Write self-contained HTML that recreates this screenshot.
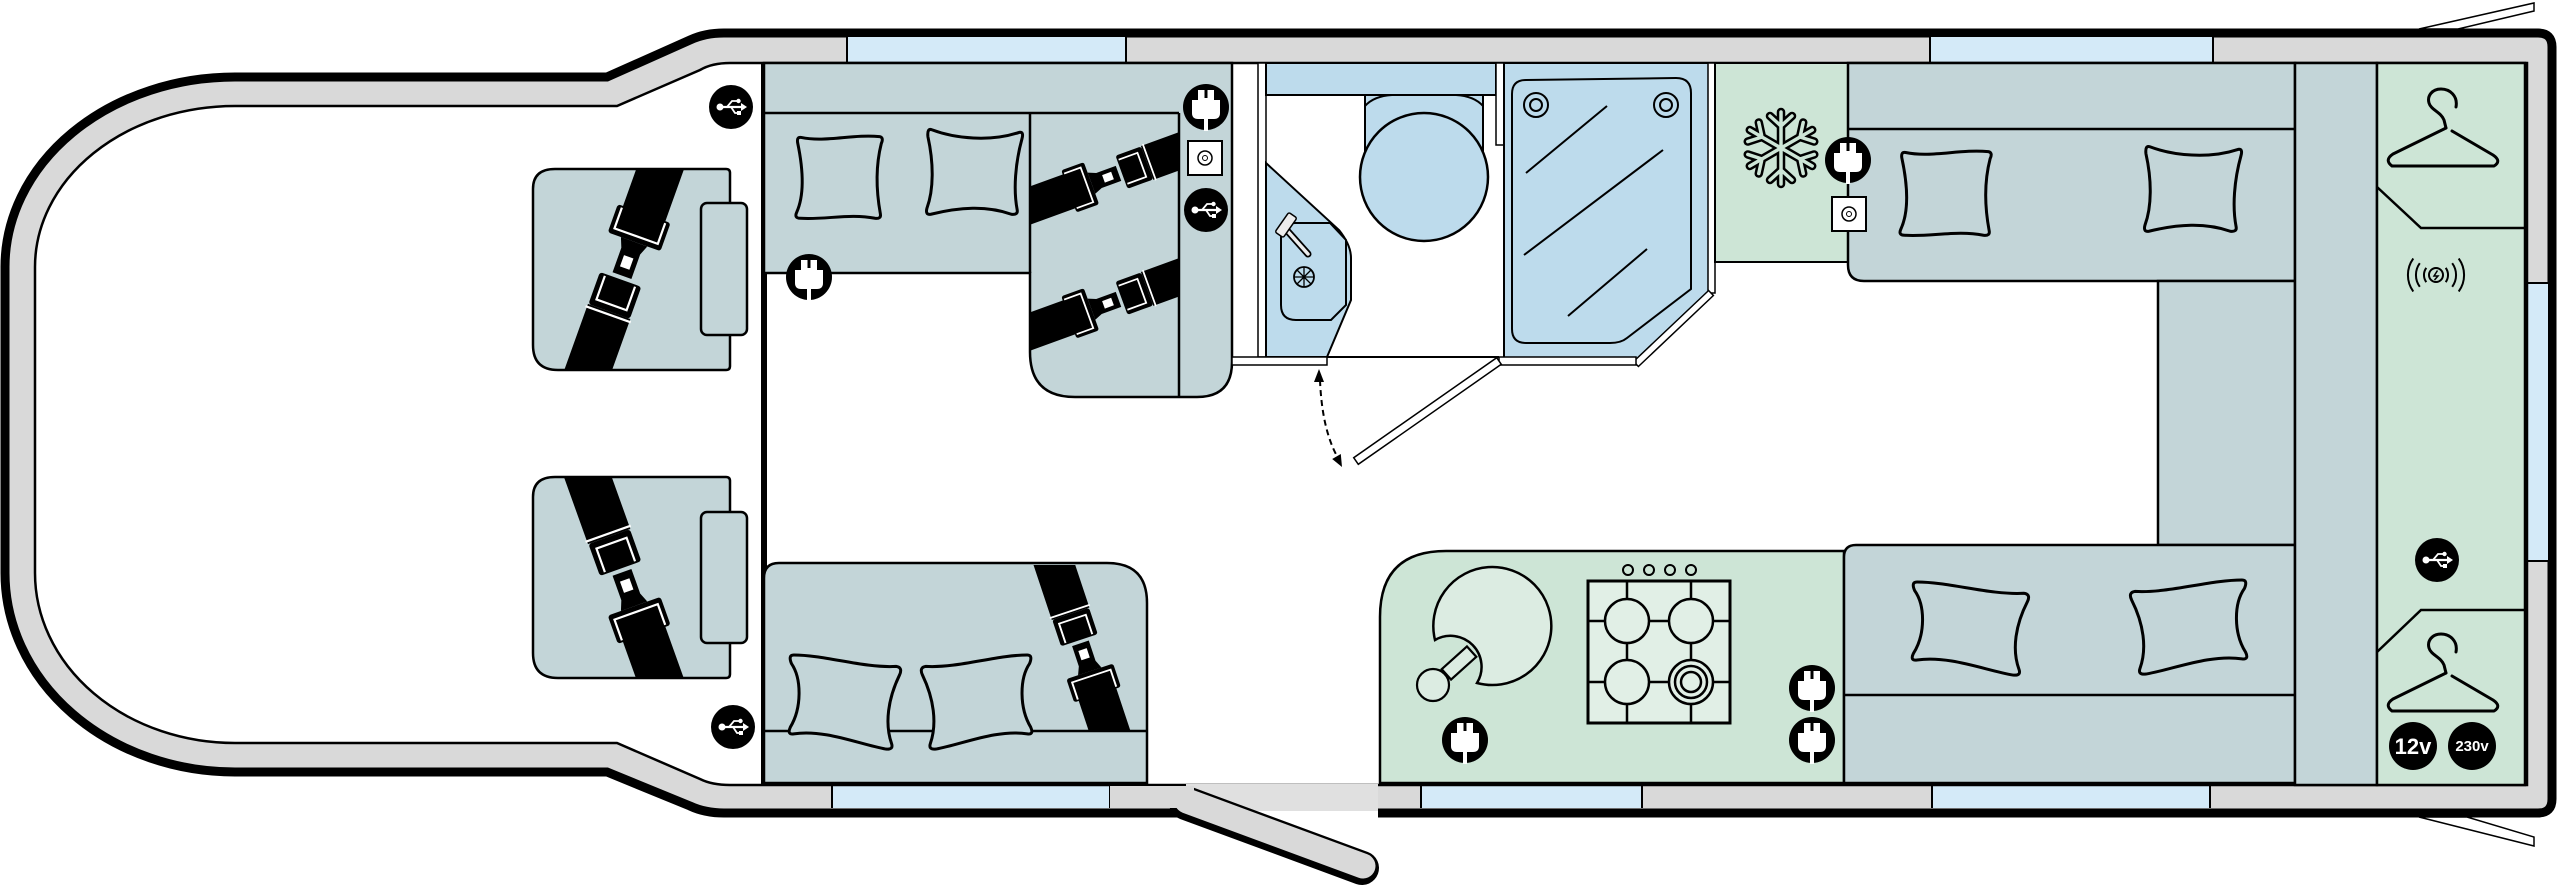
<!DOCTYPE html>
<html><head><meta charset="utf-8"><style>
html,body{margin:0;padding:0;background:#fff;}
svg{display:block;}
</style></head><body>
<svg width="2560" height="891" viewBox="0 0 2560 891" xmlns="http://www.w3.org/2000/svg">
<defs>
<clipPath id="cs1"><path d="M555 169 L726 169 Q730 169 730 173 L730 366 Q730 370 726 370 L558 370 Q533 370 533 345 L533 189 Q533 169 555 169 Z"/></clipPath>
<clipPath id="cs2"><path d="M555 477 L726 477 Q730 477 730 481 L730 674 Q730 678 726 678 L558 678 Q533 678 533 653 L533 497 Q533 477 555 477 Z"/></clipPath>
<clipPath id="cd1"><rect x="1031" y="114" width="147" height="282"/></clipPath>
<clipPath id="cd2"><rect x="766" y="565" width="380" height="165"/></clipPath>
</defs>

<!-- rear hatch lines -->
<polygon points="2419,29 2534,3 2534,11 2458,29" fill="#fff" stroke="#000" stroke-width="1.5"/>
<polygon points="2419,817 2534,846 2534,837 2467,817" fill="#fff" stroke="#000" stroke-width="1.5"/>

<!-- shell -->
<path d="M235 77 L607 77 L690 40 Q705 33 724 33 L2538 33 Q2552 33 2552 47 L2552 799 Q2552 813 2538 813 L724 813 Q705 813 690 806 L607 772 L235 772 A230 199 0 0 1 5 573 L5 267 A230 190 0 0 1 235 77 Z" fill="#d9d9d9" stroke="#000" stroke-width="9"/>

<!-- windows -->
<g fill="#d4eaf8">
<rect x="847" y="37" width="279" height="26"/>
<rect x="1930" y="37" width="283" height="26"/>
<rect x="832" y="785" width="278" height="23"/>
<rect x="1421" y="785" width="221" height="23"/>
<rect x="1932" y="785" width="278" height="23"/>
<rect x="2527" y="283" width="21" height="278"/>
</g>
<g stroke="#000" stroke-width="2">
<path d="M847 37V63 M1126 37V63 M1930 37V63 M2213 37V63"/>
<path d="M832 785V808 M1110 785V808 M1421 785V808 M1642 785V808 M1932 785V808 M2210 785V808"/>
<path d="M2527 283H2548 M2527 561H2548"/>
</g>

<!-- interior -->
<path d="M235 106 L617 106 L700 70 Q712 63 730 63 L2527 63 L2527 785 L730 785 Q712 785 700 779 L617 743 L235 743 A200 170 0 0 1 35 573 L35 267 A200 161 0 0 1 235 106 Z" fill="#fff" stroke="#000" stroke-width="2.5"/>

<!-- door gap + step -->
<rect x="1186" y="806" width="192" height="16" fill="#fff"/>
<rect x="1186" y="784" width="192" height="27" fill="#e0e0e0"/>
<line x1="1186" y1="803" x2="1362" y2="868" stroke="#000" stroke-width="34" stroke-linecap="round"/>
<rect x="1110" y="786" width="84" height="22" fill="#d9d9d9"/>
<line x1="1187" y1="801" x2="1363" y2="866" stroke="#d9d9d9" stroke-width="25" stroke-linecap="round"/>

<!-- wall -->
<rect x="761" y="63" width="6" height="722" fill="#000"/>

<!-- cab seats -->
<path d="M555 169 L726 169 Q730 169 730 173 L730 366 Q730 370 726 370 L558 370 Q533 370 533 345 L533 189 Q533 169 555 169 Z" fill="#c3d5d8" stroke="#000" stroke-width="2.5"/>
<g clip-path="url(#cs1)"><g transform="translate(624 270) rotate(19.7)">
<rect x="-22.5" y="-150" width="45" height="100" fill="#000"/>
<rect x="-28" y="-60" width="56" height="30" rx="3" fill="#000"/>
<path d="M-23 -58 V-36 H23 V-58" fill="none" stroke="#fff" stroke-width="2.2"/>
<path d="M-14 -30 H14 L10 -20 V6 H-10 V-20 Z" fill="#000"/>
<rect x="-5" y="-14" width="10" height="12" fill="#fff"/>
<rect x="-22" y="10" width="44" height="34" rx="3" fill="#000"/>
<path d="M-16 12 V37 H16 V12" fill="none" stroke="#fff" stroke-width="2.2"/>
<rect x="-22.5" y="44" width="45" height="110" fill="#000"/>
<path d="M-24 47 H24" stroke="#fff" stroke-width="2.2"/>
</g></g>
<rect x="701" y="203" width="46" height="132" rx="6" fill="#c3d5d8" stroke="#000" stroke-width="2.5"/>

<path d="M555 477 L726 477 Q730 477 730 481 L730 674 Q730 678 726 678 L558 678 Q533 678 533 653 L533 497 Q533 477 555 477 Z" fill="#c3d5d8" stroke="#000" stroke-width="2.5"/>
<g clip-path="url(#cs2)"><g transform="translate(624 578) scale(1 -1) rotate(19.7)">
<rect x="-22.5" y="-150" width="45" height="100" fill="#000"/>
<rect x="-28" y="-60" width="56" height="30" rx="3" fill="#000"/>
<path d="M-23 -58 V-36 H23 V-58" fill="none" stroke="#fff" stroke-width="2.2"/>
<path d="M-14 -30 H14 L10 -20 V6 H-10 V-20 Z" fill="#000"/>
<rect x="-5" y="-14" width="10" height="12" fill="#fff"/>
<rect x="-22" y="10" width="44" height="34" rx="3" fill="#000"/>
<path d="M-16 12 V37 H16 V12" fill="none" stroke="#fff" stroke-width="2.2"/>
<rect x="-22.5" y="44" width="45" height="110" fill="#000"/>
<path d="M-24 47 H24" stroke="#fff" stroke-width="2.2"/>
</g></g>
<rect x="701" y="512" width="46" height="131" rx="6" fill="#c3d5d8" stroke="#000" stroke-width="2.5"/>

<!-- front dinette -->
<path d="M764 63 L1232 63 L1232 362 Q1232 397 1197 397 L1075 397 Q1030 397 1030 352 L1030 273 L764 273 Z" fill="#c3d5d8" stroke="#000" stroke-width="2.5"/>
<path d="M764 113 H1179 M1030 113 V273 M1179 113 V397" stroke="#000" stroke-width="2.5" fill="none"/>
<g clip-path="url(#cd1)">
<g transform="translate(1114 175) rotate(-110) scale(0.8)">
<rect x="-22.5" y="-150" width="45" height="100" fill="#000"/>
<rect x="-28" y="-60" width="56" height="30" rx="3" fill="#000"/>
<path d="M-23 -58 V-36 H23 V-58" fill="none" stroke="#fff" stroke-width="2.2"/>
<path d="M-14 -30 H14 L10 -20 V6 H-10 V-20 Z" fill="#000"/>
<rect x="-5" y="-14" width="10" height="12" fill="#fff"/>
<rect x="-22" y="10" width="44" height="34" rx="3" fill="#000"/>
<path d="M-16 12 V37 H16 V12" fill="none" stroke="#fff" stroke-width="2.2"/>
<rect x="-22.5" y="44" width="45" height="110" fill="#000"/>
<path d="M-24 47 H24" stroke="#fff" stroke-width="2.2"/>
</g>
<g transform="translate(1114 301) rotate(-110) scale(0.8)">
<rect x="-22.5" y="-150" width="45" height="100" fill="#000"/>
<rect x="-28" y="-60" width="56" height="30" rx="3" fill="#000"/>
<path d="M-23 -58 V-36 H23 V-58" fill="none" stroke="#fff" stroke-width="2.2"/>
<path d="M-14 -30 H14 L10 -20 V6 H-10 V-20 Z" fill="#000"/>
<rect x="-5" y="-14" width="10" height="12" fill="#fff"/>
<rect x="-22" y="10" width="44" height="34" rx="3" fill="#000"/>
<path d="M-16 12 V37 H16 V12" fill="none" stroke="#fff" stroke-width="2.2"/>
<rect x="-22.5" y="44" width="45" height="110" fill="#000"/>
<path d="M-24 47 H24" stroke="#fff" stroke-width="2.2"/>
</g>
</g>
<g fill="#c3d5d8" stroke="#000" stroke-width="3">
<path transform="translate(794 134) scale(0.9 0.86)" vector-effect="non-scaling-stroke" d="M8 4 C35 10 65 0 95 3 Q100 4 97 11 C90 40 92 70 96 93 Q97 99 90 98 C62 92 35 100 7 98 Q0 98 3 91 C12 70 10 40 4 10 Q3 3 8 4 Z"/>
<path transform="translate(926 128) scale(0.97 0.88)" vector-effect="non-scaling-stroke" d="M6 2 C30 12 66 16 96 5 Q101 4 99 12 C92 40 90 70 94 93 Q95 99 88 98 C62 88 35 90 5 98 Q-1 99 1 91 C8 70 8 40 2 10 Q1 0 6 2 Z"/>
</g>

<!-- rear-facing dinette -->
<path d="M764 783 L764 578 Q764 563 779 563 L1107 563 Q1147 563 1147 603 L1147 783 Z" fill="#c3d5d8" stroke="#000" stroke-width="2.5"/>
<path d="M764 731 H1147" stroke="#000" stroke-width="2.5"/>
<g clip-path="url(#cd2)"><g transform="translate(1082 648) scale(1 -1) rotate(18.4) scale(0.88 0.82)">
<rect x="-22.5" y="-150" width="45" height="100" fill="#000"/>
<rect x="-28" y="-60" width="56" height="30" rx="3" fill="#000"/>
<path d="M-23 -58 V-36 H23 V-58" fill="none" stroke="#fff" stroke-width="2.2"/>
<path d="M-14 -30 H14 L10 -20 V6 H-10 V-20 Z" fill="#000"/>
<rect x="-5" y="-14" width="10" height="12" fill="#fff"/>
<rect x="-22" y="10" width="44" height="34" rx="3" fill="#000"/>
<path d="M-16 12 V37 H16 V12" fill="none" stroke="#fff" stroke-width="2.2"/>
<rect x="-22.5" y="44" width="45" height="110" fill="#000"/>
<path d="M-24 47 H24" stroke="#fff" stroke-width="2.2"/>
</g></g>
<g fill="#c3d5d8" stroke="#000" stroke-width="3">
<path transform="translate(788 655) scale(1.15 0.95)" vector-effect="non-scaling-stroke" d="M5 0 C32 0 66 14 94 12 Q100 13 97 21 C87 46 84 72 90 93 Q92 100 85 99 C62 94 32 78 5 83 Q-1 84 2 76 C12 56 12 25 3 9 Q0 0 5 0 Z"/>
<path transform="translate(919 655) scale(1.14 0.95)" vector-effect="non-scaling-stroke" d="M95 0 C68 0 34 14 6 12 Q0 13 3 21 C13 46 16 72 10 93 Q8 100 15 99 C38 94 68 78 95 83 Q101 84 98 76 C88 56 88 25 97 9 Q100 0 95 0 Z"/>
</g>

<!-- washroom -->
<rect x="1258" y="63" width="8" height="294" fill="#fff" stroke="#000" stroke-width="1.5"/>
<rect x="1266" y="63" width="230" height="32" fill="#bddbec" stroke="#000" stroke-width="2"/>
<rect x="1496" y="63" width="8" height="82" fill="#fff" stroke="#000" stroke-width="1.5"/>
<rect x="1365" y="95" width="118" height="60" fill="#bddbec" stroke="#000" stroke-width="2"/>
<path d="M1365 106 Q1374 96 1392 95 M1483 106 Q1474 96 1456 95" fill="none" stroke="#000" stroke-width="2"/>
<circle cx="1424" cy="177" r="64" fill="#bddbec" stroke="#000" stroke-width="2.5"/>
<path d="M1266 163 L1339 230 Q1351 245 1351 258 L1351 300 L1327 357 L1266 357 Z" fill="#bddbec" stroke="#000" stroke-width="2"/>
<path d="M1295 223 L1330 223 L1346 240 L1346 305 L1331 320 L1296 320 Q1281 320 1281 305 L1281 238 Q1281 223 1295 223 Z" fill="#bddbec" stroke="#000" stroke-width="2"/>
<line x1="1283" y1="226" x2="1308" y2="254" stroke="#000" stroke-width="7" stroke-linecap="round"/>
<line x1="1283" y1="226" x2="1308" y2="254" stroke="#ececec" stroke-width="3.5" stroke-linecap="round"/>
<rect x="-12" y="-5" width="24" height="10" rx="2" transform="translate(1286 225) rotate(-55)" fill="#ececec" stroke="#000" stroke-width="1.5"/>
<circle cx="1304" cy="277" r="10" fill="none" stroke="#000" stroke-width="1.8"/>
<path d="M1294 277 H1314 M1304 267 V287 M1297 270 L1311 284 M1311 270 L1297 284" stroke="#000" stroke-width="1.3"/>
<rect x="1232" y="357" width="95" height="8" fill="#fff" stroke="#000" stroke-width="1.5"/>
<path d="M1327 357 H1499" stroke="#000" stroke-width="2"/>
<path d="M1504 63 L1711 63 L1711 293 L1636 361 L1504 361 Z" fill="#bddbec" stroke="#000" stroke-width="2"/>
<path d="M1526 80 L1676 78 Q1691 78 1691 93 L1691 289 L1627 338 Q1621 343 1610 343 L1526 343 Q1512 343 1512 329 L1512 94 Q1512 80 1526 80 Z" fill="#bddbec" stroke="#000" stroke-width="2"/>
<g fill="none" stroke="#000" stroke-width="2">
<circle cx="1536" cy="105" r="12"/><circle cx="1536" cy="105" r="6"/>
<circle cx="1666" cy="105" r="12"/><circle cx="1666" cy="105" r="6"/>
<path d="M1526 173 L1607 106 M1524 255 L1663 150 M1568 316 L1647 249"/>
</g>
<rect x="1708" y="63" width="7" height="230" fill="#fff" stroke="#000" stroke-width="1.5"/>
<polygon points="1713.4,295.5 1638.4,366.5 1633.6,361.5 1708.6,290.5" fill="#fff" stroke="#000" stroke-width="1.5"/>
<rect x="1499" y="357" width="137" height="8" fill="#fff" stroke="#000" stroke-width="1.5"/>
<polygon points="1501.3,364.3 1358.3,464.3 1353.7,457.7 1496.7,357.7" fill="#fff" stroke="#000" stroke-width="1.5"/>
<path d="M1320 380 Q1322 430 1338 458" fill="none" stroke="#000" stroke-width="2" stroke-dasharray="6 4"/>
<polygon points="1319,369 1314,382 1324,382" fill="#000"/>
<polygon points="1342,467 1340.8,454 1332.2,459" fill="#000"/>

<!-- fridge -->
<rect x="1715" y="63" width="133" height="199" fill="#cde5d6" stroke="#000" stroke-width="2"/>
<g transform="translate(1781 148)" fill="none" stroke-linecap="round" stroke-linejoin="round">
<g stroke="#000" stroke-width="8.5">
<path d="M0 0 V-36 M-11 -32 L0 -22 L11 -32"/>
<path transform="rotate(60)" d="M0 0 V-36 M-11 -32 L0 -22 L11 -32"/>
<path transform="rotate(120)" d="M0 0 V-36 M-11 -32 L0 -22 L11 -32"/>
<path transform="rotate(180)" d="M0 0 V-36 M-11 -32 L0 -22 L11 -32"/>
<path transform="rotate(240)" d="M0 0 V-36 M-11 -32 L0 -22 L11 -32"/>
<path transform="rotate(300)" d="M0 0 V-36 M-11 -32 L0 -22 L11 -32"/>
</g>
<g stroke="#cde5d6" stroke-width="3.5">
<path d="M0 0 V-36 M-11 -32 L0 -22 L11 -32"/>
<path transform="rotate(60)" d="M0 0 V-36 M-11 -32 L0 -22 L11 -32"/>
<path transform="rotate(120)" d="M0 0 V-36 M-11 -32 L0 -22 L11 -32"/>
<path transform="rotate(180)" d="M0 0 V-36 M-11 -32 L0 -22 L11 -32"/>
<path transform="rotate(240)" d="M0 0 V-36 M-11 -32 L0 -22 L11 -32"/>
<path transform="rotate(300)" d="M0 0 V-36 M-11 -32 L0 -22 L11 -32"/>
</g>
</g>

<!-- kitchen -->
<path d="M1380 783 L1380 617 Q1380 551 1446 551 L1844 551 L1844 783 Z" fill="#cde5d6" stroke="#000" stroke-width="2.5"/>
<path d="M1435 640 A59 59 0 1 1 1477 683 A31 31 0 0 0 1435 640 Z" fill="#dcece2" stroke="#000" stroke-width="2.5"/>
<rect x="-17" y="-7" width="34" height="14" transform="translate(1459 663) rotate(-42)" fill="#dcece2" stroke="#000" stroke-width="2.2"/>
<circle cx="1433" cy="685" r="16" fill="#dcece2" stroke="#000" stroke-width="2.2"/>
<rect x="1588" y="581" width="142" height="142" fill="#e1efe6" stroke="#000" stroke-width="3"/>
<path d="M1627 581 V723 M1691 581 V723 M1588 621 H1730 M1588 682 H1730" stroke="#000" stroke-width="2.5"/>
<g fill="#e1efe6" stroke="#000" stroke-width="2.5">
<circle cx="1627" cy="621" r="22"/><circle cx="1691" cy="621" r="22"/>
<circle cx="1627" cy="682" r="22"/><circle cx="1691" cy="682" r="22"/>
<circle cx="1691" cy="682" r="16"/><circle cx="1691" cy="682" r="10"/>
</g>
<g fill="none" stroke="#000" stroke-width="2">
<circle cx="1628" cy="570" r="5"/><circle cx="1649" cy="570" r="5"/><circle cx="1670" cy="570" r="5"/><circle cx="1691" cy="570" r="5"/>
</g>

<!-- rear lounge -->
<path d="M1848 63 L2295 63 L2295 281 L1864 281 Q1848 281 1848 265 Z" fill="#c3d5d8" stroke="#000" stroke-width="2.5"/>
<path d="M1848 129 H2295" stroke="#000" stroke-width="2.5"/>
<rect x="2158" y="281" width="137" height="264" fill="#c3d5d8" stroke="#000" stroke-width="2.5"/>
<path d="M1844 783 L1844 557 Q1844 545 1856 545 L2295 545 L2295 783 Z" fill="#c3d5d8" stroke="#000" stroke-width="2.5"/>
<path d="M1844 695 H2295" stroke="#000" stroke-width="2.5"/>
<rect x="2295" y="63" width="82" height="722" fill="#c3d5d8" stroke="#000" stroke-width="2.5"/>
<rect x="2377" y="63" width="148" height="722" fill="#cde5d6" stroke="#000" stroke-width="2.5"/>
<path d="M2377 187 L2421 228 H2525 M2377 652 L2421 610 H2525" fill="none" stroke="#000" stroke-width="2.5"/>
<g fill="#c3d5d8" stroke="#000" stroke-width="3">
<path transform="translate(1898 149) scale(0.95 0.88)" vector-effect="non-scaling-stroke" d="M8 4 C35 10 65 0 95 3 Q100 4 97 11 C90 40 92 70 96 93 Q97 99 90 98 C62 92 35 100 7 98 Q0 98 3 91 C12 70 10 40 4 10 Q3 3 8 4 Z"/>
<path transform="translate(2144 145) scale(0.98 0.88)" vector-effect="non-scaling-stroke" d="M6 2 C30 12 66 16 96 5 Q101 4 99 12 C92 40 90 70 94 93 Q95 99 88 98 C62 88 35 90 5 98 Q-1 99 1 91 C8 70 8 40 2 10 Q1 0 6 2 Z"/>
<path transform="translate(1911 582) scale(1.2 0.94)" vector-effect="non-scaling-stroke" d="M5 0 C32 0 66 14 94 12 Q100 13 97 21 C87 46 84 72 90 93 Q92 100 85 99 C62 94 32 78 5 83 Q-1 84 2 76 C12 56 12 25 3 9 Q0 0 5 0 Z"/>
<path transform="translate(2128 580) scale(1.2 0.95)" vector-effect="non-scaling-stroke" d="M95 0 C68 0 34 14 6 12 Q0 13 3 21 C13 46 16 72 10 93 Q8 100 15 99 C38 94 68 78 95 83 Q101 84 98 76 C88 56 88 25 97 9 Q100 0 95 0 Z"/>
</g>

<!-- hangers -->
<g fill="none" stroke="#000" stroke-width="3" stroke-linecap="round" stroke-linejoin="round">
<path d="M2456 107 C2458 96 2450 89 2441 89 C2432 89 2427 96 2429 103 C2431 110 2441 112 2444 120 L2446 128"/>
<path d="M2446 128 L2393 154 Q2384 160 2392 166 L2494 166 Q2502 161 2493 155 L2452 131"/>
<path d="M2456 652 C2458 641 2450 634 2441 634 C2432 634 2427 641 2429 648 C2431 655 2441 657 2444 665 L2446 673"/>
<path d="M2446 673 L2393 699 Q2384 705 2392 711 L2494 711 Q2502 706 2493 700 L2452 676"/>
</g>

<!-- wireless charger -->
<g transform="translate(2436 275)" fill="none" stroke="#000" stroke-width="2">
<circle r="7"/>
<path d="M1.5 -4.5 L-2 1 H2 L-1.5 5" stroke-width="1.5"/>
<path d="M-9.7 -7.1 A12 12 0 0 0 -9.7 7.1 M-16.2 -11.8 A20 20 0 0 0 -16.2 11.8 M-22.7 -16.5 A28 28 0 0 0 -22.7 16.5"/>
<path d="M9.7 -7.1 A12 12 0 0 1 9.7 7.1 M16.2 -11.8 A20 20 0 0 1 16.2 11.8 M22.7 -16.5 A28 28 0 0 1 22.7 16.5"/>
</g>

<!-- 12v / 230v -->
<circle cx="2413" cy="746" r="24" fill="#000"/>
<circle cx="2472" cy="746" r="24" fill="#000"/>
<text x="2413" y="754" font-family="Liberation Sans, sans-serif" font-size="22" font-weight="bold" fill="#fff" text-anchor="middle">12v</text>
<text x="2472" y="751" font-family="Liberation Sans, sans-serif" font-size="15" font-weight="bold" fill="#fff" text-anchor="middle">230v</text>

<!-- sockets -->
<g transform="translate(1205 158)"><rect x="-17" y="-17" width="34" height="34" fill="#fff" stroke="#000" stroke-width="2"/><circle r="7" fill="none" stroke="#000" stroke-width="1.5"/><circle r="2.5" fill="none" stroke="#000" stroke-width="1"/></g>
<g transform="translate(1849 214)"><rect x="-17" y="-17" width="34" height="34" fill="#fff" stroke="#000" stroke-width="2"/><circle r="7" fill="none" stroke="#000" stroke-width="1.5"/><circle r="2.5" fill="none" stroke="#000" stroke-width="1"/></g>

<!-- plugs -->
<g transform="translate(1206 107)"><circle r="23" fill="#000"/><rect x="-8" y="-17" width="16" height="11" fill="#fff"/><rect x="-1.5" y="-17" width="3" height="8" fill="#000"/><path d="M-14 -7 H14 V6 Q14 12 8 12 H-8 Q-14 12 -14 6 Z" fill="#fff"/><rect x="-2" y="11" width="4" height="13" fill="#fff"/></g>
<g transform="translate(809 277)"><circle r="23" fill="#000"/><rect x="-8" y="-17" width="16" height="11" fill="#fff"/><rect x="-1.5" y="-17" width="3" height="8" fill="#000"/><path d="M-14 -7 H14 V6 Q14 12 8 12 H-8 Q-14 12 -14 6 Z" fill="#fff"/><rect x="-2" y="11" width="4" height="13" fill="#fff"/></g>
<g transform="translate(1848 160)"><circle r="23" fill="#000"/><rect x="-8" y="-17" width="16" height="11" fill="#fff"/><rect x="-1.5" y="-17" width="3" height="8" fill="#000"/><path d="M-14 -7 H14 V6 Q14 12 8 12 H-8 Q-14 12 -14 6 Z" fill="#fff"/><rect x="-2" y="11" width="4" height="13" fill="#fff"/></g>
<g transform="translate(1465 740)"><circle r="23" fill="#000"/><rect x="-8" y="-17" width="16" height="11" fill="#fff"/><rect x="-1.5" y="-17" width="3" height="8" fill="#000"/><path d="M-14 -7 H14 V6 Q14 12 8 12 H-8 Q-14 12 -14 6 Z" fill="#fff"/><rect x="-2" y="11" width="4" height="13" fill="#fff"/></g>
<g transform="translate(1812 688)"><circle r="23" fill="#000"/><rect x="-8" y="-17" width="16" height="11" fill="#fff"/><rect x="-1.5" y="-17" width="3" height="8" fill="#000"/><path d="M-14 -7 H14 V6 Q14 12 8 12 H-8 Q-14 12 -14 6 Z" fill="#fff"/><rect x="-2" y="11" width="4" height="13" fill="#fff"/></g>
<g transform="translate(1812 740)"><circle r="23" fill="#000"/><rect x="-8" y="-17" width="16" height="11" fill="#fff"/><rect x="-1.5" y="-17" width="3" height="8" fill="#000"/><path d="M-14 -7 H14 V6 Q14 12 8 12 H-8 Q-14 12 -14 6 Z" fill="#fff"/><rect x="-2" y="11" width="4" height="13" fill="#fff"/></g>

<!-- USB -->
<g transform="translate(731 107)"><circle r="22" fill="#000"/><g fill="#fff"><circle cx="-11" r="3.5"/><path d="M-11 0 H10" stroke="#fff" stroke-width="2.2"/><path d="M10 -4 L16 0 L10 4 Z"/><path d="M-4 0 L1 -6 H6" stroke="#fff" stroke-width="1.8" fill="none"/><circle cx="7.5" cy="-6" r="2.2"/><path d="M0 0 L4 6 H7" stroke="#fff" stroke-width="1.8" fill="none"/><rect x="6" y="4" width="4" height="4"/></g></g>
<g transform="translate(733 727)"><circle r="22" fill="#000"/><g fill="#fff"><circle cx="-11" r="3.5"/><path d="M-11 0 H10" stroke="#fff" stroke-width="2.2"/><path d="M10 -4 L16 0 L10 4 Z"/><path d="M-4 0 L1 -6 H6" stroke="#fff" stroke-width="1.8" fill="none"/><circle cx="7.5" cy="-6" r="2.2"/><path d="M0 0 L4 6 H7" stroke="#fff" stroke-width="1.8" fill="none"/><rect x="6" y="4" width="4" height="4"/></g></g>
<g transform="translate(1206 210)"><circle r="22" fill="#000"/><g fill="#fff"><circle cx="-11" r="3.5"/><path d="M-11 0 H10" stroke="#fff" stroke-width="2.2"/><path d="M10 -4 L16 0 L10 4 Z"/><path d="M-4 0 L1 -6 H6" stroke="#fff" stroke-width="1.8" fill="none"/><circle cx="7.5" cy="-6" r="2.2"/><path d="M0 0 L4 6 H7" stroke="#fff" stroke-width="1.8" fill="none"/><rect x="6" y="4" width="4" height="4"/></g></g>
<g transform="translate(2437 560)"><circle r="22" fill="#000"/><g fill="#fff"><circle cx="-11" r="3.5"/><path d="M-11 0 H10" stroke="#fff" stroke-width="2.2"/><path d="M10 -4 L16 0 L10 4 Z"/><path d="M-4 0 L1 -6 H6" stroke="#fff" stroke-width="1.8" fill="none"/><circle cx="7.5" cy="-6" r="2.2"/><path d="M0 0 L4 6 H7" stroke="#fff" stroke-width="1.8" fill="none"/><rect x="6" y="4" width="4" height="4"/></g></g>
</svg>
</body></html>
